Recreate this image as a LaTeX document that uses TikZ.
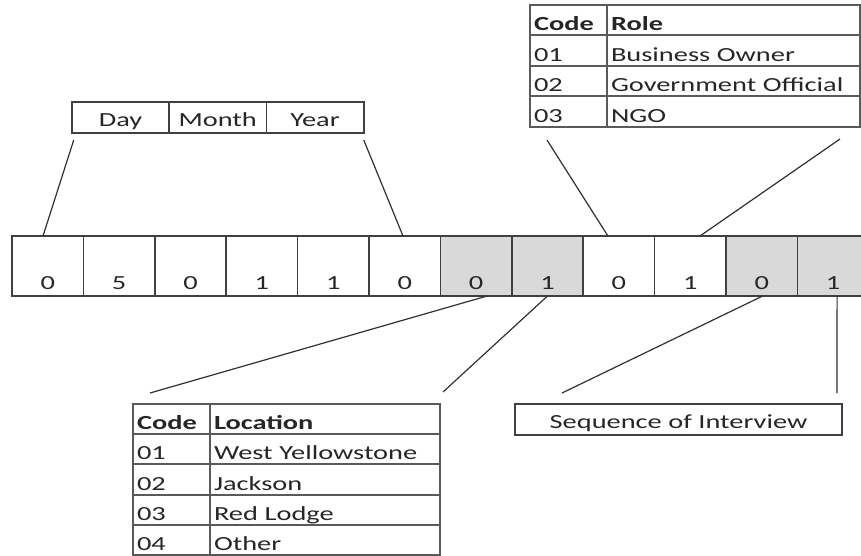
\documentclass[tikz,border=0pt]{standalone}
\usepackage{fontspec}
\setmainfont{Carlito}[FakeStretch=1.42]
\usepackage{tikz}
\usetikzlibrary{positioning,matrix}

\definecolor{linegray}{HTML}{404040}
\definecolor{cellgray}{HTML}{D9D9D9}
\definecolor{tablegray}{HTML}{5A5A5A}
\definecolor{linkgray}{HTML}{303030}
\definecolor{inkgray}{HTML}{262626}

\newcommand{\diagfont}{\fontsize{20}{24}\selectfont}

\tikzset{
  digit/.style={draw=linegray, line width=1.6pt, minimum width=71.4pt, minimum height=60pt,
    inner sep=0pt, outer sep=0pt, text height=48pt, text depth=1pt},
  shaded/.style={digit, fill=cellgray},
  datebox/.style={draw=linegray, line width=1.5pt, minimum width=97.5pt, minimum height=31pt,
    inner sep=0pt, outer sep=0pt, text height=19pt, text depth=1pt},
  codetable/.style={matrix of nodes, inner sep=0pt, outer sep=0pt,
    row sep=-2pt, column sep=-2pt,
    nodes={draw=tablegray, line width=2pt, inner xsep=4pt, inner ysep=0pt, outer sep=0pt,
      align=left, text height=22pt, text depth=1pt},
    row 1/.style={nodes={font=\diagfont\bfseries}}},
  link/.style={draw=linkgray, line width=1.2pt},
}

\begin{document}
\begin{tikzpicture}[x=1pt,y=1pt,node distance=71.4pt,on grid,font=\diagfont,text=inkgray]
\useasboundingbox (0,0) rectangle (861,-556);

% code digits
\node[digit] (c0) at (47.7,-266) {0};
\node[digit] (c1) [right=of c0] {5};
\node[digit] (c2) [right=of c1] {0};
\node[digit] (c3) [right=of c2] {1};
\node[digit] (c4) [right=of c3] {1};
\node[digit] (c5) [right=of c4] {0};
\node[shaded] (c6) [right=of c5] {0};
\node[shaded] (c7) [right=of c6] {1};
\node[digit] (c8) [right=of c7] {0};
\node[digit] (c9) [right=of c8] {1};
\node[shaded] (c10) [right=of c9] {0};
\node[shaded] (c11) [right=of c10] {1};

% date
\node[datebox] (day) at (120.5,-117.5) {Day};
\node[datebox] (month) [right=97.25pt of day] {Month};
\node[datebox] (year) [right=97.25pt of month] {Year};

% role table
\matrix[codetable, anchor=north west,
  column 1/.style={nodes={text width=69pt, minimum height=30.5pt}},
  column 2/.style={nodes={text width=245pt, minimum height=30.5pt}}] (role) at (529,-4) {
Code & Role \\
01 & Business Owner \\
02 & Government Official \\
03 & NGO \\
};

% location table
\matrix[codetable, anchor=north west,
  column 1/.style={nodes={text width=69pt, minimum height=30.2pt}},
  column 2/.style={nodes={text width=222pt, minimum height=30.2pt}}] (loc) at (132,-403) {
Code & Location \\
01 & West Yellowstone \\
02 & Jackson \\
03 & Red Lodge \\
04 & Other \\
};

% sequence
\node[datebox, minimum width=327pt, text height=18pt] (seq) at (678.5,-419.5) {Sequence of Interview};

\path[link]
([xshift=2pt,yshift=-7pt]day.south west) edge ([xshift=-4.7pt]c0.north)
([yshift=-7pt]year.south east) edge ([xshift=-1.7pt]c5.north)

([xshift=18pt,yshift=-12pt]role.south west) edge ([xshift=-11pt]c8.north)
([xshift=-21pt,yshift=-11pt]role.south east) edge ([xshift=9.7pt]c9.north)

([xshift=18pt,yshift=10pt]loc.north west) edge ([xshift=11pt]c6.south)
([xshift=2pt,yshift=11pt]loc.north east) edge (c7.south)

([xshift=47pt,yshift=11pt]seq.north west) edge ([xshift=1pt]c10.south)
([xshift=4pt]c11.south) edge ([xshift=-5pt,yshift=11pt]seq.north east)
; %end path
\end{tikzpicture}
\end{document}
